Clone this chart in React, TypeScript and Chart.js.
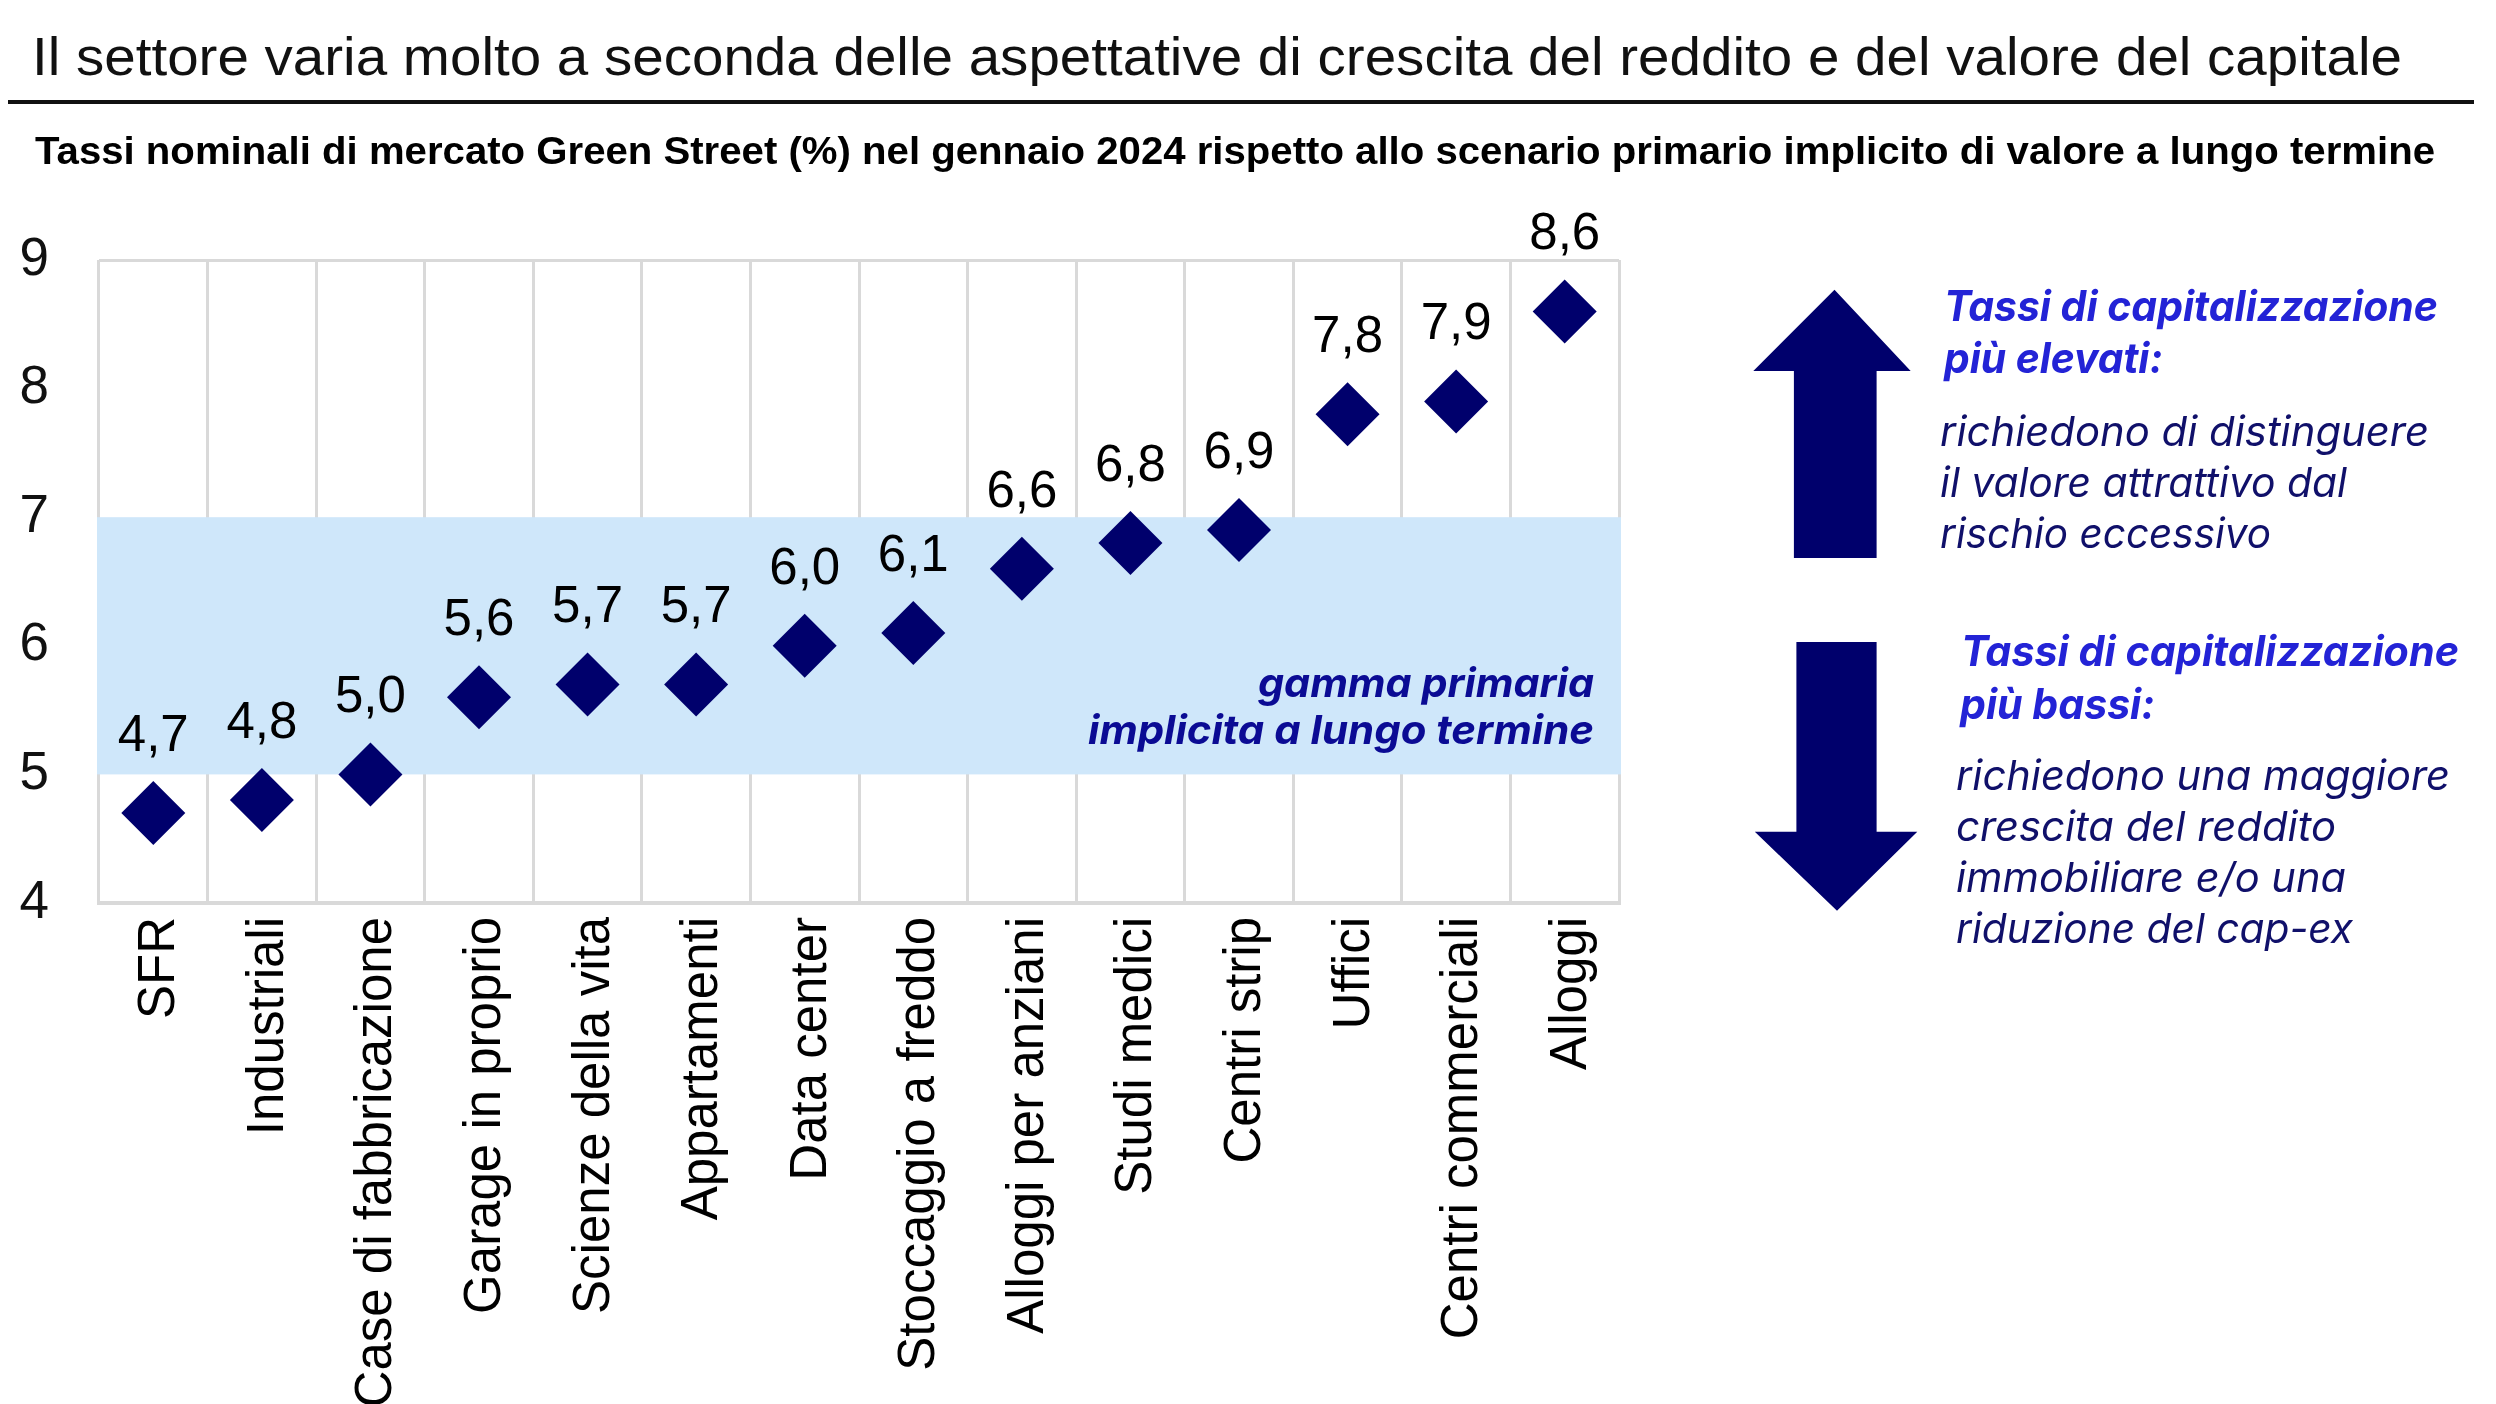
import React, { useEffect, useRef } from "react";
import { Chart, registerables } from "chart.js";

Chart.register(...registerables);

// ---- data ----
const categories = [
  "SFR",
  "Industriali",
  "Case di fabbricazione",
  "Garage in proprio",
  "Scienze della vita",
  "Appartamenti",
  "Data center",
  "Stoccaggio a freddo",
  "Alloggi per anziani",
  "Studi medici",
  "Centri strip",
  "Uffici",
  "Centri commerciali",
  "Alloggi",
];
const capRates = [4.7, 4.8, 5.0, 5.6, 5.7, 5.7, 6.0, 6.1, 6.6, 6.8, 6.9, 7.8, 7.9, 8.6];
const yTickValues = [4, 5, 6, 7, 8, 9];
const bandLow = 5;
const bandHigh = 7;

const titleText =
  "Il settore varia molto a seconda delle aspettative di crescita del reddito e del valore del capitale";
const subtitleText =
  "Tassi nominali di mercato Green Street (%) nel gennaio 2024 rispetto allo scenario primario implicito di valore a lungo termine";
const bandLabelLines = ["gamma primaria", "implicita a lungo termine"];
const upHeading = ["Tassi di capitalizzazione", "più elevati:"];
const upBody = ["richiedono di distinguere", "il valore attrattivo dal", "rischio eccessivo"];
const downHeading = ["Tassi di capitalizzazione", "più bassi:"];
const downBody = [
  "richiedono una maggiore",
  "crescita del reddito",
  "immobiliare e/o una",
  "riduzione del cap-ex",
];

// ---- styles ----
const W = 2496;
const H = 1404;
const NAVY = "#00006c";
const BAND = "#cfe7fa";
const GRID = "#d9d9d9";
const LABEL_FONT = "'Liberation Sans', Arial, sans-serif";

const fmt = (v: number) => v.toFixed(1).replace(".", ",");

const bandPlugin = {
  id: "bandPlugin",
  beforeDatasetsDraw(chart: any) {
    const { ctx, chartArea, scales } = chart;
    const yTop = scales.y.getPixelForValue(bandHigh);
    const yBot = scales.y.getPixelForValue(bandLow);
    ctx.save();
    ctx.fillStyle = BAND;
    ctx.fillRect(chartArea.left - 2, yTop, chartArea.right - chartArea.left + 4, yBot - yTop);
    ctx.restore();
  },
};

const valueLabelPlugin = {
  id: "valueLabelPlugin",
  afterDatasetsDraw(chart: any) {
    const { ctx } = chart;
    const meta = chart.getDatasetMeta(0);
    ctx.save();
    ctx.fillStyle = "#000";
    ctx.font = `51px ${LABEL_FONT}`;
    ctx.textAlign = "center";
    ctx.textBaseline = "alphabetic";
    meta.data.forEach((pt: any, i: number) => {
      ctx.fillText(fmt(capRates[i]), pt.x, pt.y - 62);
    });
    ctx.restore();
  },
};

function ChartCanvas() {
  const ref = useRef<HTMLCanvasElement | null>(null);
  useEffect(() => {
    if (!ref.current) return;
    const chart = new Chart(ref.current, {
      type: "line",
      data: {
        labels: categories,
        datasets: [
          {
            data: capRates,
            showLine: false,
            pointStyle: "rectRot",
            pointRadius: 32,
            pointHoverRadius: 32,
            pointBackgroundColor: NAVY,
            pointBorderColor: NAVY,
            pointBorderWidth: 0,
          },
        ],
      },
      options: {
        responsive: false,
        animation: false,
        devicePixelRatio: 1,
        layout: { padding: { left: 0, top: 260, right: W - 1619, bottom: 0 } },
        plugins: {
          legend: { display: false },
          tooltip: { enabled: false },
          title: { display: false },
        },
        scales: {
          x: {
            offset: true,
            grid: { offset: true, color: GRID, lineWidth: 3, drawTicks: false },
            border: { display: true, color: GRID, width: 4 },
            ticks: {
              autoSkip: false,
              maxRotation: 90,
              minRotation: 90,
              padding: 14,
              labelOffset: 7,
              color: "#000",
              font: { family: LABEL_FONT, size: 51 },
            },
            afterFit: (s: any) => {
              s.height = H - 903;
            },
          },
          y: {
            min: yTickValues[0],
            max: yTickValues[yTickValues.length - 1],
            afterBuildTicks: (s: any) => {
              s.ticks = yTickValues.map((v) => ({ value: v }));
            },
            ticks: {
              padding: 50,
              color: "#111",
              font: { family: LABEL_FONT, size: 53 },
              callback: (v: any) => String(v),
            },
            grid: {
              color: (c: any) =>
                c.tick && (c.tick.value === yTickValues[0] || c.tick.value === yTickValues[yTickValues.length - 1])
                  ? GRID
                  : "rgba(0,0,0,0)",
              lineWidth: 3,
              drawTicks: false,
            },
            border: { display: false },
            afterFit: (s: any) => {
              s.width = 99;
            },
          },
        },
      },
      plugins: [bandPlugin, valueLabelPlugin],
    } as any);
    return () => chart.destroy();
  }, []);
  return (
    <canvas
      ref={ref}
      width={W}
      height={H}
      style={{ position: "absolute", left: 0, top: 0, width: W, height: H }}
    />
  );
}

type TProps = {
  x: number;
  y: number;
  w: number;
  size: number;
  text: string;
  fill: string;
  family: string;
  weight?: number | string;
  italic?: boolean;
  anchor?: "start" | "end";
};

function T({ x, y, w, size, text, fill, family, weight = 400, italic = false, anchor = "start" }: TProps) {
  return (
    <text
      x={x}
      y={y}
      textLength={w}
      lengthAdjust="spacingAndGlyphs"
      fontFamily={family}
      fontSize={size}
      fontWeight={weight}
      fontStyle={italic ? "italic" : "normal"}
      fill={fill}
      textAnchor={anchor}
    >
      {text}
    </text>
  );
}

const HEAD_BLUE = "#2323d6";
const BODY_NAVY = "#10106a";
const SIDE_FONT = "Inter, 'Open Sans', sans-serif";
const TITLE_FONT = "'Liberation Sans Narrow', 'Liberation Sans', Arial, sans-serif";

export default function App() {
  return (
    <div style={{ position: "absolute", left: 0, top: 0, width: W, height: H, background: "#fff", overflow: "hidden" }}>
      <ChartCanvas />
      <svg
        width={W}
        height={H}
        viewBox={`0 0 ${W} ${H}`}
        style={{ position: "absolute", left: 0, top: 0, pointerEvents: "none" }}
      >
        <T x={32} y={75} w={2370} size={54} text={titleText} fill="#111" family={TITLE_FONT} />
        <rect x={8} y={100} width={2466} height={4} fill="#111" />
        <T x={35} y={164} w={2400} size={39} weight={700} text={subtitleText} fill="#000" family={TITLE_FONT} />

        <T x={1594} y={697} w={336} size={40} weight={700} italic anchor="end" text={bandLabelLines[0]} fill="#0b0b94" family={SIDE_FONT} />
        <T x={1594} y={744} w={506} size={40} weight={700} italic anchor="end" text={bandLabelLines[1]} fill="#0b0b94" family={SIDE_FONT} />

        <polygon
          points="1834.5,289.7 1910.7,371 1876.6,371 1876.6,558 1793.9,558 1793.9,371 1753.3,371"
          fill={NAVY}
        />
        <polygon
          points="1796.4,642 1876.6,642 1876.6,831.7 1917.3,831.7 1837,910.7 1754.8,831.7 1796.4,831.7"
          fill={NAVY}
        />

        <T x={1944} y={321} w={494} size={42} weight={700} italic text={upHeading[0]} fill={HEAD_BLUE} family={SIDE_FONT} />
        <T x={1944} y={373} w={219} size={42} weight={700} italic text={upHeading[1]} fill={HEAD_BLUE} family={SIDE_FONT} />
        <T x={1940} y={446} w={489} size={41} weight={400} italic text={upBody[0]} fill={BODY_NAVY} family={SIDE_FONT} />
        <T x={1940} y={497} w={407} size={41} weight={400} italic text={upBody[1]} fill={BODY_NAVY} family={SIDE_FONT} />
        <T x={1940} y={548} w={331} size={41} weight={400} italic text={upBody[2]} fill={BODY_NAVY} family={SIDE_FONT} />

        <T x={1961} y={666} w={498} size={42} weight={700} italic text={downHeading[0]} fill={HEAD_BLUE} family={SIDE_FONT} />
        <T x={1960} y={719} w={195} size={42} weight={700} italic text={downHeading[1]} fill={HEAD_BLUE} family={SIDE_FONT} />
        <T x={1956} y={790} w={494} size={41} weight={400} italic text={downBody[0]} fill={BODY_NAVY} family={SIDE_FONT} />
        <T x={1956} y={841} w={380} size={41} weight={400} italic text={downBody[1]} fill={BODY_NAVY} family={SIDE_FONT} />
        <T x={1956} y={892} w={390} size={41} weight={400} italic text={downBody[2]} fill={BODY_NAVY} family={SIDE_FONT} />
        <T x={1956} y={943} w={397} size={41} weight={400} italic text={downBody[3]} fill={BODY_NAVY} family={SIDE_FONT} />
      </svg>
    </div>
  );
}
